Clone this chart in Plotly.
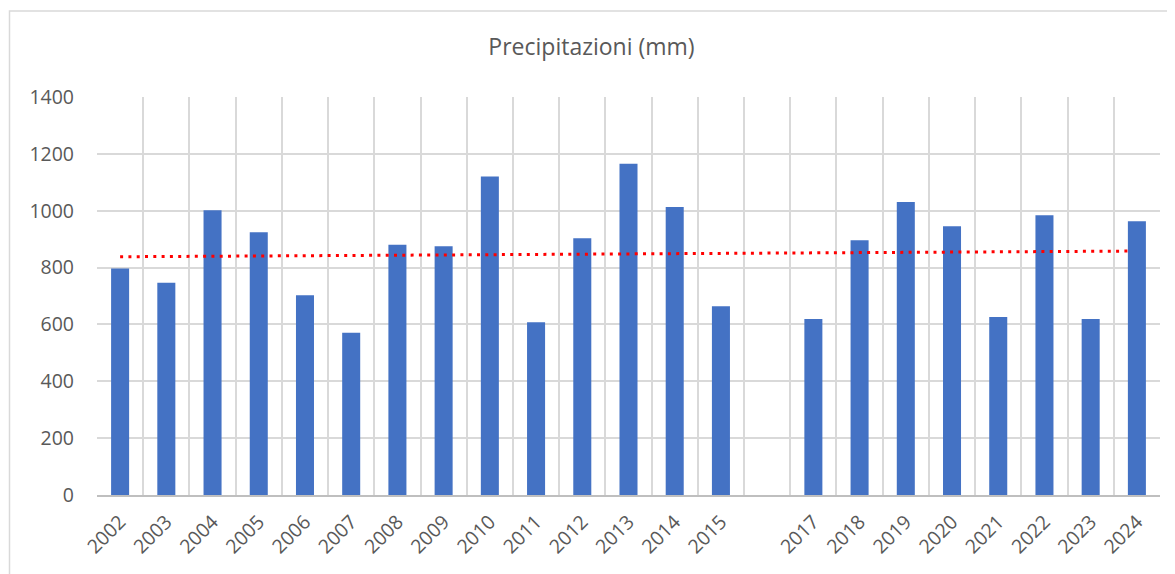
import numpy as np
import plotly.graph_objects as go

years = ["2002", "2003", "2004", "2005", "2006", "2007", "2008", "2009", "2010", "2011",
         "2012", "2013", "2014", "2015", "", "2017", "2018", "2019", "2020", "2021",
         "2022", "2023", "2024"]
precip = [797, 747, 1002, 924, 703, 571, 880, 875, 1120, 608,
          903, 1165, 1013, 664, None, 619, 896, 1031, 945, 626,
          984, 619, 963]
y_ticks = [0, 200, 400, 600, 800, 1000, 1200, 1400]

x = list(range(len(years)))

# linear trend (as Excel trendline), fitted over available points
xi = np.array([i for i, v in zip(x, precip) if v is not None], dtype=float)
yi = np.array([v for v in precip if v is not None], dtype=float)
slope, intercept = np.polyfit(xi, yi, 1)
trend_x = [x[0], x[-1] - 0.2]
trend_y = [intercept + slope * t for t in trend_x]

fig = go.Figure()
fig.add_trace(go.Bar(
    x=x, y=precip, width=0.39,
    marker=dict(color="#4472C4", line=dict(width=0)),
    showlegend=False,
))
fig.add_trace(go.Scatter(
    x=trend_x, y=trend_y, mode="lines",
    line=dict(color="#FF0000", width=3, dash="3px,5.3px"),
    showlegend=False,
))

# page has an 8px body margin: figure starts at (8, 8)
OFF = 8
W, H = 1175 - OFF, 574 - OFF
l, r, t, b = 97 - OFF, 15, 97 - OFF, 79
pw, ph = W - l - r, H - t - b

def px_x(p):
    return (p - OFF - l) / pw

def px_y(p):
    return (H - b - (p - OFF)) / ph

fig.add_shape(type="rect", xref="paper", yref="paper",
              x0=px_x(9.5), x1=px_x(1185), y0=px_y(11), y1=px_y(590),
              line=dict(color="#D9D9D9", width=1.5), layer="below")

gridc = "#D9D9D9"
fig.update_layout(
    width=W, height=H,
    margin=dict(l=l, r=r, t=t, b=b),
    paper_bgcolor="white", plot_bgcolor="white",
    font=dict(family="Open Sans, Lato, sans-serif", color="#595959"),
    title=dict(text="Precipitazioni (mm)", x=0.5, xanchor="center",
               y=1 - (47 - OFF) / H, yanchor="middle",
               font=dict(size=23, color="#595959")),
)
fig.update_xaxes(
    tickmode="array", tickvals=x, ticktext=years,
    range=[-0.5, len(years) - 0.5],
    tickangle=-45, tickfont=dict(size=19.5, color="#595959"),
    showgrid=False, zeroline=False,
    showline=True, linecolor="#BFBFBF", linewidth=1.5,
    ticks="", ticklabelstandoff=6,
    minor=dict(tickmode="array", tickvals=[i - 0.5 for i in range(len(years) + 1)],
               showgrid=True, gridcolor=gridc, gridwidth=1.5, ticks=""),
)
fig.update_yaxes(
    range=[0, 1400], tickmode="array", tickvals=y_ticks,
    tickfont=dict(size=19.5, color="#595959"),
    showgrid=True, gridcolor=gridc, gridwidth=1.5,
    zeroline=False, showline=False, ticks="", ticklabelstandoff=22,
)

fig.write_html("out.html")
